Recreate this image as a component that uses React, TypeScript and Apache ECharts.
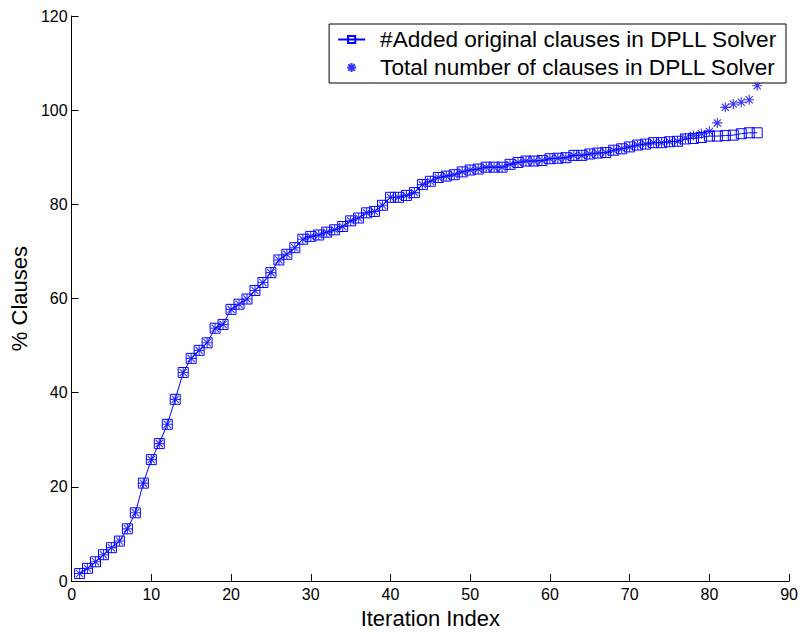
import React, { useEffect, useRef } from "react";
import * as echarts from "echarts";

const iterations: number[] = [
  1, 2, 3, 4, 5, 6, 7, 8, 9, 10, 11, 12, 13, 14, 15, 16, 17, 18, 19, 20,
  21, 22, 23, 24, 25, 26, 27, 28, 29, 30, 31, 32, 33, 34, 35, 36, 37, 38, 39, 40,
  41, 42, 43, 44, 45, 46, 47, 48, 49, 50, 51, 52, 53, 54, 55, 56, 57, 58, 59, 60,
  61, 62, 63, 64, 65, 66, 67, 68, 69, 70, 71, 72, 73, 74, 75, 76, 77, 78, 79, 80,
  81, 82, 83, 84, 85, 86,
];

const addedOriginal: number[] = [
  1.6, 2.7, 4.1, 5.6, 7.1, 8.5, 11.1, 14.5, 20.8, 25.8,
  29.2, 33.3, 38.6, 44.3, 47.3, 49.0, 50.6, 53.7, 54.5, 57.7,
  58.8, 59.9, 61.7, 63.4, 65.5, 68.2, 69.4, 70.8, 72.6, 73.2,
  73.5, 74.1, 74.6, 75.3, 76.5, 77.1, 78.2, 78.5, 79.8, 81.5,
  81.5, 81.9, 82.5, 84.2, 84.9, 85.7, 86.0, 86.3, 86.9, 87.3,
  87.5, 87.9, 87.9, 87.9, 88.5, 88.9, 89.2, 89.2, 89.3, 89.7,
  89.8, 89.9, 90.4, 90.4, 90.7, 90.9, 91.0, 91.5, 91.8, 92.2,
  92.6, 92.8, 93.1, 93.1, 93.3, 93.4, 93.9, 94.0, 94.2, 94.5,
  94.5, 94.6, 94.7, 95.0, 95.2, 95.2,
];

const totalClauses: number[] = [
  1.6, 2.7, 4.1, 5.6, 7.1, 8.5, 11.1, 14.5, 20.8, 25.8,
  29.2, 33.3, 38.6, 44.3, 47.3, 49.0, 50.6, 53.7, 54.5, 57.7,
  58.8, 59.9, 61.7, 63.4, 65.5, 68.2, 69.4, 70.8, 72.6, 73.2,
  73.5, 74.1, 74.6, 75.3, 76.5, 77.1, 78.2, 78.5, 79.8, 81.5,
  81.5, 81.9, 82.5, 84.2, 84.9, 85.7, 86.0, 86.3, 86.9, 87.3,
  87.5, 87.9, 87.9, 87.9, 88.5, 88.9, 89.2, 89.2, 89.3, 89.7,
  89.8, 89.9, 90.4, 90.4, 90.7, 90.9, 91.0, 91.5, 91.8, 92.2,
  92.6, 92.8, 93.1, 93.1, 93.3, 93.4, 94.1, 94.6, 95.0, 95.5,
  97.3, 100.6, 101.3, 101.7, 102.2, 105.2,
];

const seriesNames: string[] = [
  "#Added original clauses in DPLL Solver",
  "Total number of clauses in DPLL Solver",
];

const xTicks = { min: 0, max: 90, interval: 10 };
const yTicks = { min: 0, max: 120, interval: 20 };

const FONT = "'Liberation Sans', Arial, Helvetica, sans-serif";
const BLUE = "#0000ff";
const ASTERISK =
  "path://M0,-1L0,1M-1,0L1,0M-0.72,-0.72L0.72,0.72M-0.72,0.72L0.72,-0.72";

export default function App() {
  const ref = useRef<HTMLDivElement>(null);

  useEffect(() => {
    if (!ref.current) return;
    const chart = echarts.init(ref.current, undefined, { renderer: "svg" });
    const s1 = iterations.map((x, i) => [x, addedOriginal[i]]);
    const s2 = iterations.map((x, i) => [x, totalClauses[i]]);

    chart.setOption({
      animation: false,
      backgroundColor: "#ffffff",
      textStyle: { fontFamily: FONT },
      grid: { left: 70, right: 10, top: 16, bottom: 51, containLabel: false },
      legend: {
        orient: "vertical",
        right: 15,
        top: 24,
        padding: [4, 9, 4, 8],
        itemGap: 5,
        itemWidth: 27,
        itemHeight: 9,
        borderColor: "#000",
        borderWidth: 1,
        borderRadius: 0,
        backgroundColor: "#fff",
        textStyle: {
          fontFamily: FONT,
          fontSize: 22.6,
          lineHeight: 22,
          color: "#000",
          padding: [0, 0, 0, 10],
        },
        data: [{ name: seriesNames[0] }, { name: seriesNames[1] }],
      },
      xAxis: {
        type: "value",
        min: xTicks.min,
        max: xTicks.max,
        interval: xTicks.interval,
        name: "Iteration Index",
        nameLocation: "middle",
        nameGap: 21,
        nameTextStyle: { fontFamily: FONT, fontSize: 22, color: "#000" },
        axisLine: { show: true, onZero: false, lineStyle: { color: "#000", width: 1 } },
        axisTick: { show: true, inside: true, length: 7, lineStyle: { color: "#000" } },
        axisLabel: { fontFamily: FONT, fontSize: 16, color: "#000", margin: 5 },
        splitLine: { show: false },
      },
      yAxis: {
        type: "value",
        min: yTicks.min,
        max: yTicks.max,
        interval: yTicks.interval,
        name: "% Clauses",
        nameLocation: "middle",
        nameRotate: 90,
        nameGap: 38,
        nameTextStyle: { fontFamily: FONT, fontSize: 22, color: "#000" },
        axisLine: { show: true, onZero: false, lineStyle: { color: "#000", width: 1 } },
        axisTick: { show: true, inside: true, length: 7, lineStyle: { color: "#000" } },
        axisLabel: { fontFamily: FONT, fontSize: 16, color: "#000", margin: 4 },
        splitLine: { show: false },
      },
      series: [
        {
          name: seriesNames[0],
          type: "line",
          data: s1,
          symbol: "rect",
          symbolSize: 10,
          showSymbol: true,
          showAllSymbol: true,
          lineStyle: { color: BLUE, width: 1 },
          itemStyle: { color: "rgba(0,0,0,0)", borderColor: BLUE, borderWidth: 1 },
          z: 2,
        },
        {
          name: seriesNames[1],
          type: "scatter",
          data: s2,
          symbol: ASTERISK,
          symbolSize: 10,
          symbolKeepAspect: true,
          itemStyle: { color: BLUE, borderColor: BLUE, borderWidth: 1.1 },
          z: 3,
        },
      ],
    });
    return () => chart.dispose();
  }, []);

  return (
    <div
      ref={ref}
      style={{ position: "fixed", left: 0, top: 0, width: 801, height: 634, background: "#fff" }}
    />
  );
}
